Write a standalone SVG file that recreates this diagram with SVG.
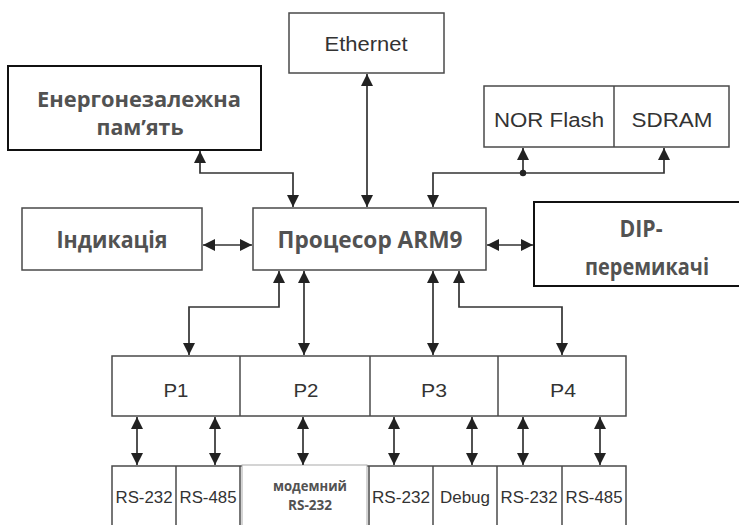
<svg xmlns="http://www.w3.org/2000/svg" width="739" height="525" viewBox="0 0 739 525">
<style>
.box{fill:#fff;stroke:#4a4a4a;stroke-width:1.5}
.thick{fill:#fff;stroke:#111;stroke-width:2}
.grid{fill:none;stroke:#4a4a4a;stroke-width:1.5}
.con{fill:none;stroke:#333;stroke-width:1.7;marker-start:url(#ah);marker-end:url(#ah)}
.con1{fill:none;stroke:#333;stroke-width:1.7;marker-end:url(#ah)}
.bold{font-family:"Open Sans","DejaVu Sans",sans-serif;font-weight:bold;fill:#525252;text-anchor:middle}
.reg{font-family:"Liberation Sans",Arial,sans-serif;fill:#333;text-anchor:middle}
</style>
<defs>
<marker id="ah" viewBox="0 0 10 10" refX="10" refY="5" markerWidth="13" markerHeight="12" markerUnits="userSpaceOnUse" orient="auto-start-reverse">
<path d="M0,0 L10,5 L0,10 z" fill="#222"/>
</marker>
</defs>
<rect width="739" height="525" fill="#fff"/>

<g id="ethernet">
<rect class="box" x="289" y="13" width="155" height="60"/>
<text class="reg" x="366" y="51" font-size="20" textLength="83" lengthAdjust="spacingAndGlyphs">Ethernet</text>
</g>

<g id="nvmem">
<rect class="thick" x="8" y="66" width="253" height="84"/>
<text class="bold" x="139" y="107" font-size="22" textLength="204" lengthAdjust="spacingAndGlyphs">Енергонезалежна</text>
<text class="bold" x="140" y="135" font-size="22" textLength="87" lengthAdjust="spacingAndGlyphs">пам’ять</text>
</g>

<g id="memory">
<rect class="box" x="484" y="86" width="245" height="61"/>
<line class="grid" x1="614" y1="86" x2="614" y2="147"/>
<text class="reg" x="549" y="127" font-size="20" textLength="110" lengthAdjust="spacingAndGlyphs">NOR Flash</text>
<text class="reg" x="672" y="127" font-size="20" textLength="81" lengthAdjust="spacingAndGlyphs">SDRAM</text>
</g>

<g id="indication">
<rect class="box" x="22" y="208" width="180" height="62"/>
<text class="bold" x="112" y="248" font-size="23" textLength="111" lengthAdjust="spacingAndGlyphs">Індикація</text>
</g>

<g id="cpu">
<rect class="box" x="253" y="208" width="233" height="62"/>
<text class="bold" x="370" y="248" font-size="23" textLength="185" lengthAdjust="spacingAndGlyphs">Процесор ARM9</text>
</g>

<g id="dip">
<rect class="thick" x="534" y="202" width="210" height="84"/>
<text class="bold" x="641" y="237" font-size="23" textLength="43" lengthAdjust="spacingAndGlyphs">DIP-</text>
<text class="bold" x="647" y="275" font-size="23" textLength="124" lengthAdjust="spacingAndGlyphs">перемикачі</text>
</g>

<g id="ports">
<rect class="box" x="112" y="356" width="514" height="60"/>
<line class="grid" x1="240" y1="356" x2="240" y2="416"/>
<line class="grid" x1="370" y1="356" x2="370" y2="416"/>
<line class="grid" x1="498" y1="356" x2="498" y2="416"/>
<text class="reg" x="176" y="397" font-size="18" textLength="25" lengthAdjust="spacingAndGlyphs">P1</text>
<text class="reg" x="306" y="397" font-size="18" textLength="25" lengthAdjust="spacingAndGlyphs">P2</text>
<text class="reg" x="434" y="397" font-size="18" textLength="26" lengthAdjust="spacingAndGlyphs">P3</text>
<text class="reg" x="563" y="397" font-size="18" textLength="26" lengthAdjust="spacingAndGlyphs">P4</text>
</g>

<g id="interfaces">
<path class="grid" d="M112,530 V466 H626 V530"/>
<line class="grid" x1="176" y1="466" x2="176" y2="530"/>
<line class="grid" x1="240" y1="466" x2="240" y2="530"/>
<line class="grid" x1="369" y1="466" x2="369" y2="530"/>
<line class="grid" x1="433" y1="466" x2="433" y2="530"/>
<line class="grid" x1="497" y1="466" x2="497" y2="530"/>
<line class="grid" x1="562" y1="466" x2="562" y2="530"/>
<rect x="242" y="465" width="125" height="65" fill="#fff" stroke="#aaa" stroke-width="1"/>
<text class="reg" x="144" y="503" font-size="16" textLength="57" lengthAdjust="spacingAndGlyphs">RS-232</text>
<text class="reg" x="208" y="503" font-size="16" textLength="57" lengthAdjust="spacingAndGlyphs">RS-485</text>
<text class="bold" x="310" y="491" font-size="14" textLength="74" lengthAdjust="spacingAndGlyphs">модемний</text>
<text class="bold" x="310" y="510" font-size="14" textLength="44" lengthAdjust="spacingAndGlyphs">RS-232</text>
<text class="reg" x="401" y="503" font-size="16" textLength="58" lengthAdjust="spacingAndGlyphs">RS-232</text>
<text class="reg" x="465" y="503" font-size="16" textLength="50" lengthAdjust="spacingAndGlyphs">Debug</text>
<text class="reg" x="529" y="503" font-size="16" textLength="57" lengthAdjust="spacingAndGlyphs">RS-232</text>
<text class="reg" x="594" y="503" font-size="16" textLength="57" lengthAdjust="spacingAndGlyphs">RS-485</text>
</g>

<g id="connectors">
<path class="con" d="M200,151 V173 H293 V207"/>
<path class="con" d="M367,74 V207"/>
<path class="con" d="M433,207 V173 H664 V148"/>
<path class="con1" d="M523,173 V148"/>
<circle cx="523" cy="173" r="3.2" fill="#222"/>
<path class="con" d="M203,245 H252"/>
<path class="con" d="M487,245 H533"/>
<path class="con" d="M279,271 V307 H189 V355"/>
<path class="con" d="M304,271 V355"/>
<path class="con" d="M433,271 V355"/>
<path class="con" d="M459,271 V307 H562 V355"/>
<path class="con" d="M137,417 V465"/>
<path class="con" d="M215,417 V465"/>
<path class="con" d="M303,417 V465"/>
<path class="con" d="M394,417 V465"/>
<path class="con" d="M472,417 V465"/>
<path class="con" d="M523,417 V465"/>
<path class="con" d="M600,417 V465"/>
</g>
</svg>
